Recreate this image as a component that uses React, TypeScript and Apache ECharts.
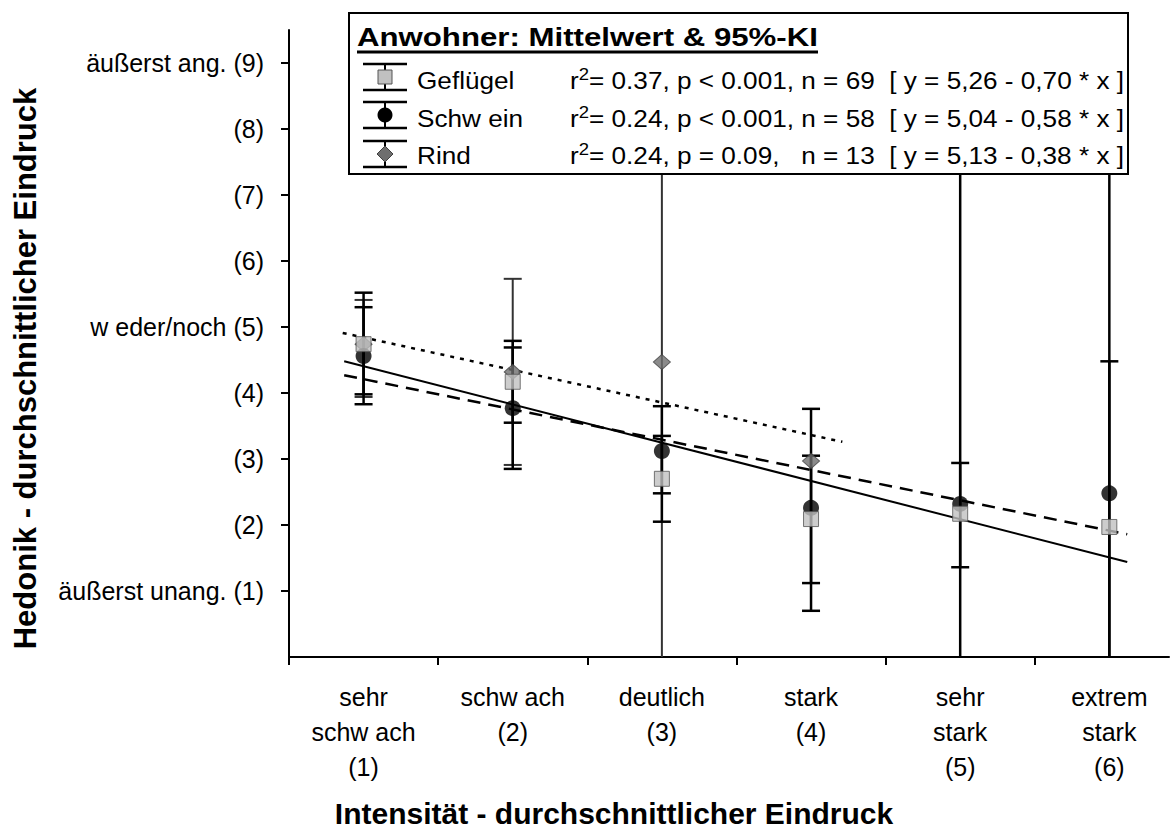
import React, { useEffect, useRef } from 'react';
import * as echarts from 'echarts';

const FONT = '"Liberation Sans", Arial, sans-serif';

// ---- categories / ticks ----
const xValues = [1, 2, 3, 4, 5, 6];
const xTickLabels = [
  'sehr\nschw ach\n(1)',
  'schw ach\n(2)',
  'deutlich\n(3)',
  'stark\n(4)',
  'sehr\nstark\n(5)',
  'extrem\nstark\n(6)',
];
const xBoundaryTicks = [0.5, 1.5, 2.5, 3.5, 4.5, 5.5];
const yTickValues = [1, 2, 3, 4, 5, 6, 7, 8, 9];
const yTickLabels = [
  'äußerst unang. (1)',
  '(2)',
  '(3)',
  '(4)',
  'w eder/noch (5)',
  '(6)',
  '(7)',
  '(8)',
  'äußerst ang. (9)',
];

const xAxisTitle = 'Intensität - durchschnittlicher Eindruck';
const yAxisTitle = 'Hedonik - durchschnittlicher Eindruck';
const legendTitle = 'Anwohner: Mittelwert & 95%-KI';

// ---- series values (mean and 95% CI) ----
const gefluegelMean = [4.74, 4.17, 2.7, 2.09, 2.17, 1.97];
const gefluegelLow = [3.98, 3.55, 2.05, 1.12, 1.36, -0.54];
const gefluegelHigh = [5.52, 4.79, 3.35, 3.05, 2.94, 4.48];

const schweinMean = [4.56, 3.77, 3.12, 2.26, 2.32, 2.48];
const schweinLow = [3.83, 2.85, 2.48, 0.7, -5.7, -5.5];
const schweinHigh = [5.3, 4.69, 3.8, 3.76, 10.3, 10.5];

const rindMean: (number | null)[] = [4.74, 4.32, 4.47, 2.97, null, null];
const rindLow: (number | null)[] = [3.94, 2.91, -1.53, 2.97, null, null];
const rindHigh: (number | null)[] = [5.41, 5.73, 10.47, 2.97, null, null];

// ---- regression lines (start / end points) ----
const trendGefluegelX = [0.87, 6.12];
const trendGefluegelY = [4.48, 1.44];
const trendSchweinX = [0.87, 6.12];
const trendSchweinY = [4.27, 1.86];
const trendRindX = [0.86, 4.21];
const trendRindY = [4.91, 3.26];

// ---- legend texts ----
const legendNames = ['Geflügel', 'Schw ein', 'Rind'];
const legendR2 = ['0.37', '0.24', '0.24'];
const legendStats = [
  ', p < 0.001, n = 69  [ y = 5,26 - 0,70 * x ]',
  ', p < 0.001, n = 58  [ y = 5,04 - 0,58 * x ]',
  ', p = 0.09,   n = 13  [ y = 5,13 - 0,38 * x ]',
];

const Y_MIN = 0;
const Y_MAX = 9.5;
const LEGEND_Z = 100;

function errorSeries(
  name: string,
  lows: (number | null)[],
  highs: (number | null)[],
  color: string,
  width: number
) {
  const data = xValues
    .map((x, i) => (lows[i] == null ? null : [x, lows[i], highs[i]]))
    .filter((d) => d !== null);
  return {
    type: 'custom',
    name,
    data,
    z: 3,
    silent: true,
    encode: { x: 0, y: [1, 2] },
    renderItem: (params: any, api: any) => {
      const x = api.value(0);
      const lo = api.value(1);
      const hi = api.value(2);
      const loC = Math.max(lo, Y_MIN);
      const hiC = Math.min(hi, Y_MAX);
      const pLo = api.coord([x, loC]);
      const pHi = api.coord([x, hiC]);
      const half = 9;
      const children: any[] = [
        {
          type: 'line',
          shape: { x1: pLo[0], y1: pLo[1], x2: pHi[0], y2: pHi[1] },
          style: { stroke: color, lineWidth: width },
        },
      ];
      if (lo >= Y_MIN && hi > lo) {
        children.push({
          type: 'line',
          shape: { x1: pLo[0] - half, y1: pLo[1], x2: pLo[0] + half, y2: pLo[1] },
          style: { stroke: color, lineWidth: width },
        });
      }
      if (hi <= Y_MAX && hi > lo) {
        children.push({
          type: 'line',
          shape: { x1: pHi[0] - half, y1: pHi[1], x2: pHi[0] + half, y2: pHi[1] },
          style: { stroke: color, lineWidth: width },
        });
      }
      return { type: 'group', children };
    },
  };
}

function markerSeries(name: string, means: (number | null)[], symbol: string, size: any, itemStyle: any, z: number) {
  return {
    type: 'scatter',
    name,
    data: xValues.map((x, i) => (means[i] == null ? null : [x, means[i]])).filter((d) => d !== null),
    symbol,
    symbolSize: size,
    itemStyle,
    z,
    silent: true,
  };
}

function trendSeries(name: string, xs: number[], ys: number[], type: any, width: number) {
  return {
    type: 'line',
    name,
    data: xs.map((x, i) => [x, ys[i]]),
    symbol: 'none',
    showSymbol: false,
    silent: true,
    z: 2,
    lineStyle: { color: '#000', width, type },
  };
}

function buildLegend() {
  const left = 349;
  const top = 13;
  const w = 779;
  const h = 161;
  const rowCenters = [77, 115, 154];
  const textCenters = [80, 118, 155];
  const children: any[] = [
    {
      type: 'rect',
      z: LEGEND_Z,
      shape: { x: left, y: top, width: w, height: h },
      style: { fill: '#fff', stroke: '#000', lineWidth: 2 },
    },
    {
      type: 'text',
      z: LEGEND_Z + 1,
      x: 357,
      y: 37,
      scaleX: 1.2,
      style: {
        text: legendTitle,
        font: `bold 26px ${FONT}`,
        fill: '#000',
        textAlign: 'left',
        textVerticalAlign: 'middle',
      },
    },
    {
      type: 'line',
      z: LEGEND_Z + 1,
      shape: { x1: 357, y1: 52, x2: 818, y2: 52 },
      style: { stroke: '#000', lineWidth: 3 },
    },
  ];
  const markerStyles = [
    { kind: 'rect', fill: '#c0c0c0', stroke: '#555' },
    { kind: 'circle', fill: '#000', stroke: '#000' },
    { kind: 'diamond', fill: '#6e6e6e', stroke: '#404040' },
  ];
  rowCenters.forEach((cy, i) => {
    const cx = 385;
    children.push(
      { type: 'line', z: LEGEND_Z + 1, shape: { x1: 363, y1: cy - 13, x2: 407, y2: cy - 13 }, style: { stroke: '#000', lineWidth: 2.5 } },
      { type: 'line', z: LEGEND_Z + 1, shape: { x1: 363, y1: cy + 13, x2: 407, y2: cy + 13 }, style: { stroke: '#000', lineWidth: 2.5 } },
      { type: 'line', z: LEGEND_Z + 1, shape: { x1: cx, y1: cy - 13, x2: cx, y2: cy + 13 }, style: { stroke: '#000', lineWidth: 2 } }
    );
    const m = markerStyles[i];
    if (m.kind === 'rect') {
      children.push({ type: 'rect', z: LEGEND_Z + 2, shape: { x: cx - 7, y: cy - 7, width: 14, height: 14 }, style: { fill: m.fill, stroke: m.stroke, lineWidth: 1 } });
    } else if (m.kind === 'circle') {
      children.push({ type: 'circle', z: LEGEND_Z + 2, shape: { cx, cy, r: 7.5 }, style: { fill: m.fill } });
    } else {
      children.push({
        type: 'polygon',
        z: LEGEND_Z + 2,
        shape: { points: [[cx, cy - 8], [cx + 8, cy], [cx, cy + 8], [cx - 8, cy]] },
        style: { fill: m.fill, stroke: m.stroke, lineWidth: 1 },
      });
    }
    children.push({
      type: 'text',
      z: LEGEND_Z + 1,
      x: 417,
      y: textCenters[i],
      scaleX: 1.09,
      style: {
        text: legendNames[i],
        font: `24px ${FONT}`,
        fill: '#000',
        textAlign: 'left',
        textVerticalAlign: 'middle',
      },
    });
    children.push({
      type: 'text',
      z: LEGEND_Z + 1,
      x: 570,
      y: textCenters[i],
      scaleX: 1.09,
      style: {
        text: `r{sup|2}= ${legendR2[i]}${legendStats[i]}`,
        font: `24px ${FONT}`,
        fill: '#000',
        textAlign: 'left',
        textVerticalAlign: 'middle',
        lineHeight: 28,
        rich: {
          sup: { fontSize: 17, lineHeight: 14, verticalAlign: 'top', fontFamily: FONT, fill: '#000' },
        },
      },
    });
  });
  return { type: 'group', z: LEGEND_Z, children };
}

export default function App() {
  const ref = useRef<HTMLDivElement>(null);

  useEffect(() => {
    document.body.style.margin = '0';
    document.body.style.overflow = 'hidden';
    const chart = echarts.init(ref.current as HTMLDivElement, undefined, { renderer: 'svg' });
    const option: any = {
      animation: false,
      backgroundColor: '#fff',
      textStyle: { fontFamily: FONT },
      grid: { left: 289, right: 4, top: 30, bottom: 177, containLabel: false },
      xAxis: {
        type: 'value',
        min: 0.5,
        max: 6.4,
        name: xAxisTitle,
        nameLocation: 'middle',
        nameGap: 141,
        nameTextStyle: {
          fontSize: 30,
          fontWeight: 'bold',
          color: '#000',
          fontFamily: FONT,
          padding: [0, 230, 0, 0],
        },
        axisLine: { show: true, onZero: false, lineStyle: { color: '#000', width: 2 } },
        axisTick: { show: true, length: 8, lineStyle: { color: '#000', width: 2 }, customValues: xBoundaryTicks },
        axisLabel: {
          customValues: xValues,
          formatter: (v: number) => {
            const i = xValues.indexOf(Math.round(v));
            return i >= 0 ? xTickLabels[i] : '';
          },
          fontSize: 25,
          lineHeight: 35,
          color: '#000',
          fontFamily: FONT,
          margin: 22,
        },
        splitLine: { show: false },
      },
      yAxis: {
        type: 'value',
        min: Y_MIN,
        max: Y_MAX,
        name: yAxisTitle,
        nameLocation: 'middle',
        nameGap: 248,
        nameTextStyle: {
          fontSize: 31,
          fontWeight: 'bold',
          color: '#000',
          fontFamily: FONT,
          padding: [0, 50, 0, 0],
        },
        axisLine: { show: true, onZero: false, lineStyle: { color: '#000', width: 2 } },
        axisTick: { show: true, length: 8, lineStyle: { color: '#000', width: 2 }, customValues: yTickValues },
        axisLabel: {
          customValues: yTickValues,
          formatter: (v: number) => {
            const i = yTickValues.indexOf(Math.round(v));
            return i >= 0 ? yTickLabels[i] : '';
          },
          fontSize: 25,
          color: '#000',
          fontFamily: FONT,
          margin: 25,
        },
        splitLine: { show: false },
      },
      series: [
        trendSeries('Geflügel Regression', trendGefluegelX, trendGefluegelY, 'solid', 2),
        trendSeries('Schwein Regression', trendSchweinX, trendSchweinY, [13, 8], 2.5),
        trendSeries('Rind Regression', trendRindX, trendRindY, [4, 6], 2.5),
        errorSeries('Rind KI', rindLow, rindHigh, '#333', 2),
        errorSeries('Schwein KI', schweinLow, schweinHigh, '#000', 2.5),
        errorSeries('Geflügel KI', gefluegelLow, gefluegelHigh, '#000', 2.5),
        markerSeries('Rind', rindMean, 'diamond', [17, 15], { color: '#6e6e6e', borderColor: '#404040', borderWidth: 1 }, 5),
        markerSeries('Schwein', schweinMean, 'circle', 16, { color: '#000' }, 6),
        markerSeries('Geflügel', gefluegelMean, 'rect', 15, { color: '#c0c0c0', borderColor: '#555', borderWidth: 1 }, 7),
      ],
      graphic: [buildLegend()],
    };
    chart.setOption(option);
    return () => chart.dispose();
  }, []);

  return <div ref={ref} style={{ width: 1173, height: 834 }} />;
}
